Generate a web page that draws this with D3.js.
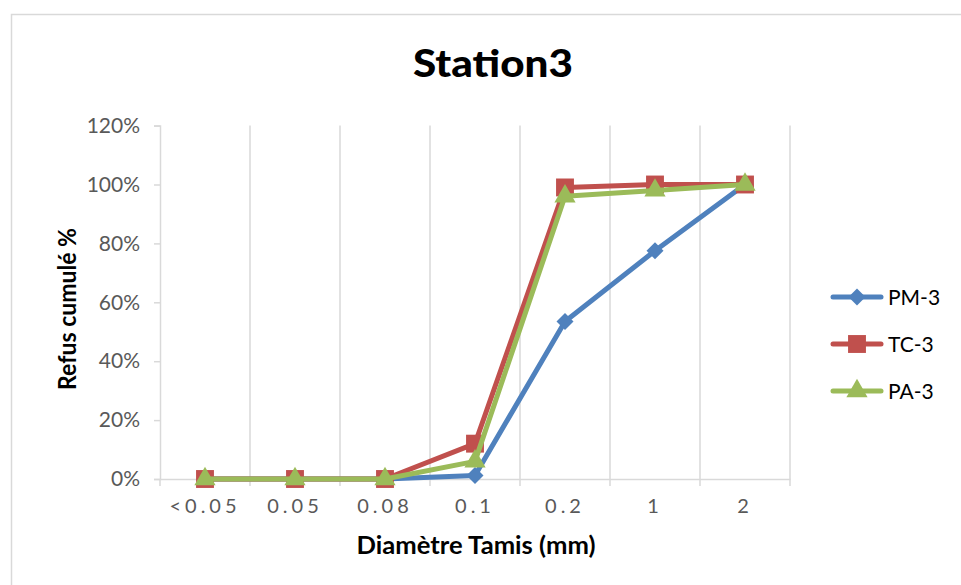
<!DOCTYPE html>
<html><head><meta charset="utf-8">
<script src="https://cdn.jsdelivr.net/npm/d3@7"></script>
<style>body{margin:0;background:#fff}svg{display:block}</style>
</head><body>
<script>
const categories = ["<0.05","0.05","0.08","0.1","0.2","1","2"];
const seriesNames = ["PM-3","TC-3","PA-3"];
const pm3 = [0,0,0,0.012,0.535,0.775,1.0];
const tc3 = [0,0,0,0.12,0.99,1.0,1.0];
const pa3 = [0,0,0,0.06,0.96,0.98,1.0];
const yTicks = [0,0.2,0.4,0.6,0.8,1.0,1.2];
const colors = ["#4F81BD","#C0504D","#9BBB59"];
const seriesData = [pm3, tc3, pa3];

const FONT="Lato, 'Open Sans', sans-serif";
const W=961,H=585;
const svg=d3.select("body").append("svg").attr("width",W).attr("height",H);
svg.append("rect").attr("x",11.5).attr("y",14.5).attr("width",W).attr("height",H)
  .attr("fill","#fff").attr("stroke","#d9d9d9").attr("stroke-width",1.5);

const x=d3.scaleBand().domain(categories).range([160,790]);
const y=d3.scaleLinear().domain([0,1.2]).range([479,125.6]);

// marker generators
const markerPath=[
  d3.symbol().type(d3.symbolSquare).size(145)(),   // rotated => diamond
  d3.symbol().type(d3.symbolSquare).size(320)(),
  d3.symbol().type(d3.symbolTriangle).size(195)()
];
const markerRot=[45,0,0];

// vertical gridlines at category boundaries
const bounds=categories.map(c=>x(c)+x.bandwidth());
svg.append("g").selectAll("line").data(bounds).join("line")
  .attr("x1",d=>d).attr("x2",d=>d).attr("y1",y(1.2)).attr("y2",y(0))
  .attr("stroke","#d9d9d9").attr("stroke-width",1.5);

// y axis
const yAxis=svg.append("g").attr("transform","translate(160,0)")
  .call(d3.axisLeft(y).tickValues(yTicks).tickFormat(d3.format(".0%")).tickSize(6).tickPadding(14));
yAxis.select(".domain").attr("stroke","#d9d9d9").attr("stroke-width",1.5);
yAxis.selectAll(".tick line").attr("stroke","#d9d9d9").attr("stroke-width",1.5);
yAxis.selectAll("text").attr("fill","#595959").style("font-family",FONT).style("font-size","21px");

// x axis
const xAxis=svg.append("g").attr("transform","translate(0,479)")
  .call(d3.axisBottom(x).tickSize(0).tickPadding(20));
xAxis.select(".domain").attr("stroke","#d9d9d9").attr("stroke-width",1.5);
xAxis.selectAll("text").attr("fill","#595959").style("font-family",FONT)
  .style("font-size","20px").style("letter-spacing","4px");
svg.append("g").selectAll("line").data([160,...bounds]).join("line")
  .attr("x1",d=>d).attr("x2",d=>d).attr("y1",479).attr("y2",486)
  .attr("stroke","#d9d9d9").attr("stroke-width",1.5);

// lines and markers
const line=d3.line().x((d,i)=>x(categories[i])+x.bandwidth()/2).y(d=>y(d));
seriesData.forEach((s,k)=>{
  svg.append("path").datum(s).attr("d",line).attr("fill","none")
    .attr("stroke",colors[k]).attr("stroke-width",5).attr("stroke-linejoin","round").attr("stroke-linecap","round");
  svg.append("g").selectAll("path").data(s).join("path")
    .attr("transform",(d,i)=>`translate(${x(categories[i])+x.bandwidth()/2},${y(d)}) rotate(${markerRot[k]})`)
    .attr("d",markerPath[k]).attr("fill",colors[k]);
});

// title
svg.append("text").attr("x",493).attr("y",77).attr("text-anchor","middle")
  .style("font-family",FONT).style("font-weight","900").style("font-size","37px")
  .attr("textLength",160).attr("lengthAdjust","spacingAndGlyphs")
  .attr("fill","#000").text("Station3");

// axis titles
svg.append("text").attr("transform","translate(76,309) rotate(-90)").attr("text-anchor","middle")
  .style("font-family",FONT).style("font-weight","bold").style("font-size","24px")
  .attr("textLength",162).attr("lengthAdjust","spacingAndGlyphs")
  .text("Refus cumulé %");
svg.append("text").attr("x",476).attr("y",554).attr("text-anchor","middle")
  .style("font-family",FONT).style("font-weight","bold").style("font-size","25px")
  .attr("textLength",239).attr("lengthAdjust","spacingAndGlyphs")
  .text("Diamètre Tamis (mm)");

// legend
const lg=svg.append("g");
seriesNames.forEach((n,k)=>{
  const ly=297+k*47;
  lg.append("line").attr("x1",833).attr("x2",881).attr("y1",ly).attr("y2",ly)
    .attr("stroke",colors[k]).attr("stroke-width",5).attr("stroke-linecap","round");
  lg.append("path").attr("transform",`translate(857,${ly}) rotate(${markerRot[k]})`)
    .attr("d",markerPath[k]).attr("fill",colors[k]);
  lg.append("text").attr("x",888).attr("y",ly).attr("dy","0.36em")
    .style("font-family",FONT).style("font-size","21px").attr("fill","#000").text(n);
});
</script>
</body></html>
